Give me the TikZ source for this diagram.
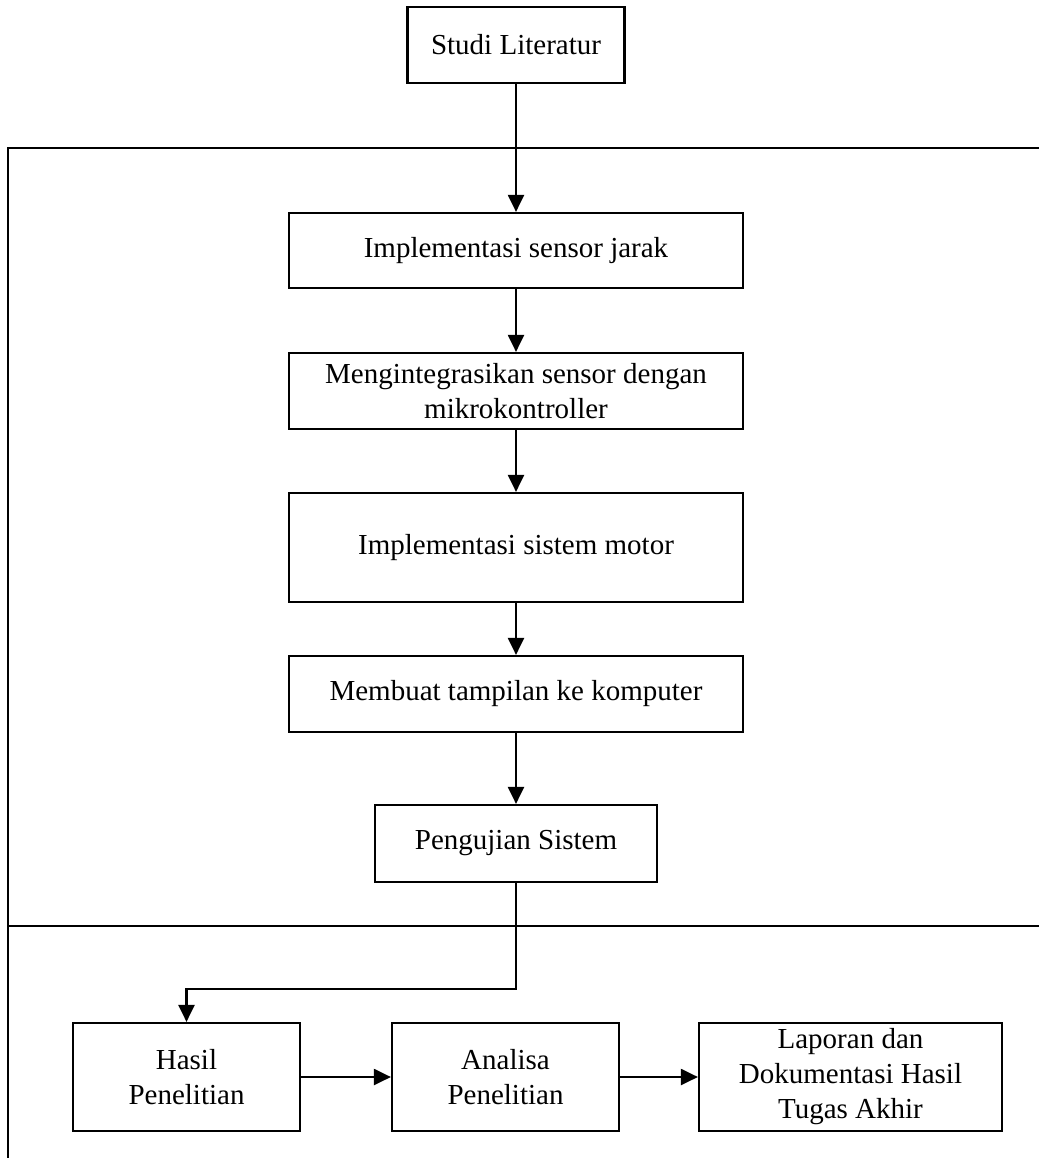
\documentclass[tikz,border=0pt]{standalone}
\usepackage{fontspec}
\setmainfont{Liberation Serif}
\usetikzlibrary{arrows.meta}
\tikzset{
  box/.style={draw=black, line width=2.2pt, fill=white, inner sep=0pt, align=center,
    font=\fontsize{29}{35}\selectfont},
  conn/.style={line width=2.2pt, -{Triangle[length=17pt,width=16pt]}},
  frameline/.style={line width=2.2pt}
}
\begin{document}
\begin{tikzpicture}[x=1pt,y=-1pt]
\useasboundingbox (0,0) rectangle (1038,1158);
% frame
\draw[frameline] (1040,148) -- (8,148) -- (8,1160);
\draw[frameline] (8,926) -- (1040,926);
% boxes
\node[box, minimum width=217pt, minimum height=76pt] (studi) at (516,45) {Studi Literatur};
\node[box, minimum width=454pt, minimum height=75pt] (s1) at (516,250.5) {Implementasi sensor jarak};
\node[box, minimum width=454pt, minimum height=76pt] (s2) at (516,391) {Mengintegrasikan sensor dengan\\mikrokontroller};
\node[box, minimum width=454pt, minimum height=109pt] (s3) at (516,547.5) {Implementasi sistem motor};
\node[box, minimum width=454pt, minimum height=76pt] (s4) at (516,694) {Membuat tampilan ke komputer};
\node[box, minimum width=282pt, minimum height=77pt] (s5) at (516,843.5) {Pengujian Sistem};
\node[box, minimum width=227pt, minimum height=108pt] (hasil) at (186.5,1077) {Hasil\\Penelitian};
\node[box, minimum width=227pt, minimum height=108pt] (analisa) at (505.5,1077) {Analisa\\Penelitian};
\node[box, minimum width=303pt, minimum height=108pt] (laporan) at (850.5,1077) {Laporan dan\\Dokumentasi Hasil\\Tugas Akhir};
% connectors
\coordinate (bend1) at (516,989);
\coordinate (bend2) at (186.5,989);
\draw[conn] (studi.south) -- (s1.north);
\draw[conn] (s1.south) -- (s2.north);
\draw[conn] (s2.south) -- (s3.north);
\draw[conn] (s3.south) -- (s4.north);
\draw[conn] (s4.south) -- (s5.north);
\draw[conn] (s5.south) -- (bend1) -- (bend2) -- (hasil.north);
\draw[conn] (hasil.east) -- (analisa.west);
\draw[conn] (analisa.east) -- (laporan.west);
\end{tikzpicture}
\end{document}
